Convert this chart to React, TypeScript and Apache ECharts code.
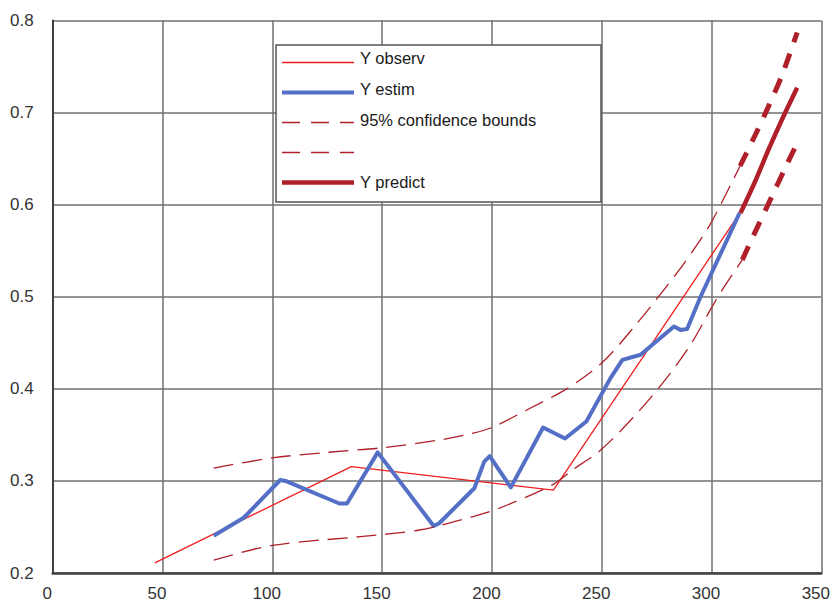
import React, { useEffect, useRef } from "react";
import * as echarts from "echarts";

// Y observ (thin red)
const observX = [46.5, 136, 228, 313.2];
const observY = [0.211, 0.3155, 0.29, 0.592];

// Y estim (blue)
const estimX = [73.3, 87, 103.6, 106, 130.5, 134, 148, 173.5, 176, 192, 196.5, 199, 208.6, 223.3, 233.3, 243, 254, 259.4, 267.7, 282.9, 285.9, 288.9, 295, 312.8];
const estimY = [0.2405, 0.26, 0.301, 0.3, 0.2755, 0.2755, 0.331, 0.251, 0.254, 0.292, 0.321, 0.327, 0.293, 0.358, 0.346, 0.3645, 0.4116, 0.4315, 0.437, 0.4677, 0.464, 0.465, 0.5, 0.591];

// 95% confidence bounds (thin dashed)
const upperX = [73.3, 100, 125, 150, 175, 190, 200, 215, 234, 250, 265, 284, 293, 299, 305, 313];
const upperY = [0.314, 0.325, 0.331, 0.336, 0.344, 0.351, 0.358, 0.376, 0.4, 0.428, 0.468, 0.525, 0.555, 0.577, 0.604, 0.642];
const lowerX = [73.3, 100, 140, 167, 191, 203, 227.5, 236.7, 248.8, 264, 279, 291, 299.5, 305, 314];
const lowerY = [0.214, 0.23, 0.2395, 0.2467, 0.261, 0.27, 0.2957, 0.312, 0.332, 0.368, 0.41, 0.45, 0.486, 0.508, 0.54];

// prediction bounds (thick dashed)
const predUpperX = [313, 320, 326, 332, 339];
const predUpperY = [0.642, 0.676, 0.707, 0.74, 0.787];
const predLowerX = [314, 320, 327.5, 333, 339];
const predLowerY = [0.54, 0.571, 0.609, 0.637, 0.667];

// Y predict (thick dark red)
const predictX = [313.2, 320, 326, 332, 339];
const predictY = [0.591, 0.626, 0.66, 0.692, 0.727];

const legendNames = ["Y observ", "Y estim", "95% confidence bounds", "", "Y predict"];

const zip = (xs: number[], ys: number[]) => xs.map((x, i) => [x, ys[i]]);

const RED = "#f01e1e";
const BLUE = "#5470c6";
const DARKRED = "#b0202a";
const FONT = "Liberation Sans, Arial, sans-serif";

export default function App() {
  const ref = useRef<HTMLDivElement>(null);
  useEffect(() => {
    if (!ref.current) return;
    const chart = echarts.init(ref.current, undefined, { renderer: "svg" });
    const legendStyles = [
      { stroke: RED, lineWidth: 1.3, lineDash: null as any },
      { stroke: BLUE, lineWidth: 4, lineDash: null as any },
      { stroke: DARKRED, lineWidth: 1.3, lineDash: [18, 11] },
      { stroke: DARKRED, lineWidth: 1.3, lineDash: [18, 11] },
      { stroke: DARKRED, lineWidth: 4.5, lineDash: null as any },
    ];
    const legendEls: any[] = [
      {
        type: "rect",
        shape: { x: 276, y: 45, width: 325, height: 157 },
        style: { fill: "#ffffff", stroke: "#555555", lineWidth: 1.5 },
        z: 100,
      },
    ];
    legendNames.forEach((name, i) => {
      const y = 62.5 + 30 * i;
      legendEls.push({
        type: "line",
        shape: { x1: 282, y1: y, x2: 354, y2: y },
        style: legendStyles[i],
        z: 101,
      });
      if (name) {
        legendEls.push({
          type: "text",
          x: 360,
          y: 58 + 30.9 * i,
          style: { text: name, fill: "#1a1a1a", font: `16.5px ${FONT}`, verticalAlign: "middle", align: "left" },
          z: 101,
        });
      }
    });

    const axisLabel = { color: "#333333", fontSize: 17, fontFamily: FONT };
    chart.setOption({
      animation: false,
      backgroundColor: "#ffffff",
      grid: { left: 52.7, right: 10.3, top: 20.5, bottom: 31, containLabel: false },
      xAxis: {
        type: "value",
        min: 0,
        max: 350,
        interval: 50,
        axisLine: { show: true, onZero: false, lineStyle: { color: "#404040", width: 2.5 } },
        axisTick: { show: false },
        axisLabel: { ...axisLabel, margin: 12, padding: [0, 11, 0, 0] },
        splitLine: { show: true, lineStyle: { color: "#707070", width: 1.5 } },
      },
      yAxis: {
        type: "value",
        min: 0.2,
        max: 0.8,
        interval: 0.1,
        axisLine: { show: true, onZero: false, lineStyle: { color: "#404040", width: 2 } },
        axisTick: { show: false },
        axisLabel: { ...axisLabel, margin: 19, padding: [0, 0, 5, 0], formatter: (v: number) => v.toFixed(1) },
        splitLine: { show: true, lineStyle: { color: "#707070", width: 1.5 } },
      },
      graphic: legendEls,
      series: [
        {
          name: "Y observ",
          type: "line",
          data: zip(observX, observY),
          symbol: "none",
          lineStyle: { color: RED, width: 1.3 },
          z: 3,
        },
        {
          name: "Y estim",
          type: "line",
          data: zip(estimX, estimY),
          symbol: "none",
          lineStyle: { color: BLUE, width: 4, join: "round" },
          z: 4,
        },
        {
          name: "95% confidence bounds",
          type: "line",
          data: zip(upperX, upperY),
          symbol: "none",
          smooth: 0.3,
          lineStyle: { color: DARKRED, width: 1.3, type: [20, 9] },
          z: 5,
        },
        {
          name: "lower bound",
          type: "line",
          data: zip(lowerX, lowerY),
          symbol: "none",
          smooth: 0.3,
          lineStyle: { color: DARKRED, width: 1.3, type: [20, 9] },
          z: 5,
        },
        {
          name: "upper prediction",
          type: "line",
          data: zip(predUpperX, predUpperY),
          symbol: "none",
          smooth: 0.3,
          lineStyle: { color: DARKRED, width: 5, type: [15, 12] },
          z: 6,
        },
        {
          name: "lower prediction",
          type: "line",
          data: zip(predLowerX, predLowerY),
          symbol: "none",
          smooth: 0.3,
          lineStyle: { color: DARKRED, width: 5, type: [15, 12] },
          z: 6,
        },
        {
          name: "Y predict",
          type: "line",
          data: zip(predictX, predictY),
          symbol: "none",
          smooth: 0.3,
          lineStyle: { color: DARKRED, width: 4.5 },
          z: 7,
        },
      ],
    });
    return () => chart.dispose();
  }, []);
  return <div ref={ref} style={{ width: 833, height: 604, position: "absolute", left: 0, top: 0 }} />;
}
